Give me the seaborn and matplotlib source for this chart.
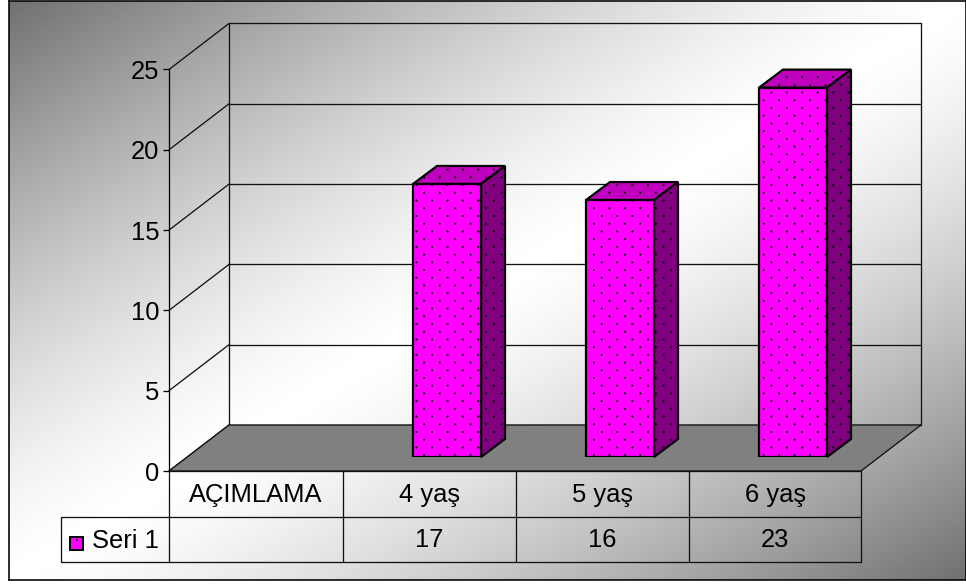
import numpy as np
import pandas as pd
import matplotlib
matplotlib.use("Agg")
import matplotlib.pyplot as plt
import matplotlib.hatch as mhatch
from matplotlib.path import Path
from matplotlib.patches import Polygon, Rectangle
from matplotlib.transforms import ScaledTranslation
import seaborn as sns

# Table columns and the single series
categories = ["AÇIMLAMA", "4 yaş", "5 yaş", "6 yaş"]
bar_categories = ["4 yaş", "5 yaş", "6 yaş"]
values = [17, 16, 23]
series_name = "Seri 1"
y_ticks = [0, 5, 10, 15, 20, 25]

W, H = 966, 585
DPI = 108
PT = 72 / DPI  # one pixel in points


class FineDots(mhatch.HatchPatternBase):
    """Small filled dots on a staggered grid: 7 columns and 14 rows per hatch tile."""
    columns = 7
    rows = 14
    radius = 0.0075

    def __init__(self, hatch, density):
        self.circle = Path.unit_circle()
        self.centres = []
        if "." in hatch:
            for r in range(self.rows + 1):
                xs = np.arange(self.columns + 1) / self.columns
                if r % 2:
                    xs = (xs[:-1] + 0.5 / self.columns)
                self.centres.extend((x, r / self.rows) for x in xs)
        self.num_vertices = len(self.centres) * len(self.circle.vertices)

    def set_vertices_and_codes(self, vertices, codes):
        n = len(self.circle.vertices)
        for i, (cx, cy) in enumerate(self.centres):
            vertices[i * n:(i + 1) * n] = self.circle.vertices * self.radius + (cx, cy)
            codes[i * n:(i + 1) * n] = self.circle.codes


mhatch._hatch_types = [FineDots if c is mhatch.SmallFilledCircles else c for c in mhatch._hatch_types]

sns.set_theme(style="white")
plt.rcParams["font.family"] = ["Liberation Sans", "DejaVu Sans"]
plt.rcParams["hatch.linewidth"] = 0.3
plt.rcParams["hatch.color"] = "black"

fig = plt.figure(figsize=((W + 0.01) / DPI, (H + 0.01) / DPI), dpi=DPI, facecolor="white")


def axes_px(x0, y0, x1, y1, **kw):
    """Axes placed by pixel box, y measured from the top of the figure."""
    return fig.add_axes([x0 / W, 1 - y1 / H, (x1 - x0) / W, (y1 - y0) / H], **kw)


def shift(dx, dy):
    return ScaledTranslation(dx / DPI, dy / DPI, fig.dpi_scale_trans)


LINE = "#111111"
THIN = 1.3 * PT
FONT = 25.5 * PT

# Diagonal dark-white-dark backdrop inside the outer frame
bg = axes_px(9, 1.5, 965.5, 580.5)
bg.set_xlim(0, 1)
bg.set_ylim(1, 0)
u, v = np.meshgrid(np.linspace(0, 1, 480), np.linspace(0, 1, 290))
shade = np.abs((u + v) / 2 - 0.5) * 2
bg.imshow(1 - 0.56 * shade ** 1.35, extent=(0, 1, 1, 0), aspect="auto", cmap="gray", vmin=0, vmax=1)
bg.set_xticks([])
bg.set_yticks([])
for s in bg.spines.values():
    s.set_color("black")
    s.set_linewidth(1.6 * PT)

# Plot geometry, in pixels
FX0, FX1, FY0, FY25 = 169, 861, 471, 69.5
DX, DY = 60, 46

# Front plane: value and category scales
ax = axes_px(FX0, FY25, FX1, FY0)
ax.patch.set_alpha(0)
ax.set_xlim(-0.5, 3.5)
ax.set_ylim(0, 25)
ax.set_xticks([])
ax.set_yticks(y_ticks)
ax.set_yticklabels([str(t) for t in y_ticks], fontsize=FONT, color="black")
ax.tick_params(axis="y", left=True, length=6 * PT, width=THIN, color="black", pad=3.5 * PT)
for name in ("top", "right", "bottom"):
    ax.spines[name].set_visible(False)
ax.spines["left"].set_linewidth(THIN)
ax.spines["left"].set_color("black")

# Back wall with gridlines, shifted from the front plane by the chart depth
back = ax.transData + shift(DX, DY)
line_kw = dict(color=LINE, lw=THIN, clip_on=False, zorder=1)
for tick in y_ticks:
    ax.plot([-0.5, 3.5], [tick, tick], transform=back, **line_kw)
    # Side wall edge from the front axis to the back wall
    x0, y0 = ax.transData.transform((-0.5, tick))
    ax.plot([x0, x0 + DX], [y0, y0 + DY], transform=None, **line_kw)
ax.plot([-0.5, -0.5], [0, 25], transform=back, **line_kw)
ax.plot([3.5, 3.5], [0, 25], transform=back, **line_kw)

# Grey floor
fx0, fy0 = ax.transData.transform((-0.5, 0))
fx1, _ = ax.transData.transform((3.5, 0))
ax.add_patch(Polygon([(fx0, fy0), (fx1, fy0), (fx1 + DX, fy0 + DY), (fx0 + DX, fy0 + DY)], closed=True,
                     transform=None, facecolor="#808080", edgecolor=LINE, lw=THIN, clip_on=False, zorder=1.5))

# Bars are drawn by seaborn on a plane set slightly behind the front edge
BAR_DX, BAR_DY = 18.5, 14
bar_ax = axes_px(FX0 + BAR_DX, FY25 - BAR_DY, FX1 + BAR_DX, FY0 - BAR_DY)
bar_ax.patch.set_alpha(0)
df = pd.DataFrame({"yas": bar_categories, "deger": values})
sns.barplot(data=df, x="yas", y="deger", order=categories, ax=bar_ax, color="#FF00FF",
            saturation=1, width=68 / 173, edgecolor="black", linewidth=2.2 * PT, hatch=".", zorder=4)
bar_ax.set_xlim(-0.5, 3.5)
bar_ax.set_ylim(0, 25)
bar_ax.axis("off")

# Top and side faces of each bar, taken from the bar rectangles
BD_X, BD_Y = 24, 18
for patch in list(bar_ax.patches):
    height = patch.get_height()
    if not height or np.isnan(height):
        continue
    x0, y0 = bar_ax.transData.transform((patch.get_x(), 0))
    x1, y1 = bar_ax.transData.transform((patch.get_x() + patch.get_width(), height))
    top = [(x0, y1), (x1, y1), (x1 + BD_X, y1 + BD_Y), (x0 + BD_X, y1 + BD_Y)]
    side = [(x1, y0), (x1 + BD_X, y0 + BD_Y), (x1 + BD_X, y1 + BD_Y), (x1, y1)]
    for pts, col in ((top, "#BF00BF"), (side, "#800080")):
        bar_ax.add_patch(Polygon(pts, closed=True, transform=None, facecolor=col, edgecolor="black",
                                 lw=2.2 * PT, hatch=".", clip_on=False, zorder=3))

# Data table under the plot
tab = axes_px(0, 0, W, H)
tab.set_xlim(0, W)
tab.set_ylim(H, 0)
tab.axis("off")
col_x = [169, 343, 516, 689, 861]
row_y = [471, 517, 562]
LEFT = 61
tab.plot([FX0, FX1], [row_y[0]] * 2, color=LINE, lw=THIN)
tab.plot([LEFT, FX1], [row_y[1]] * 2, color=LINE, lw=THIN)
tab.plot([LEFT, FX1], [row_y[2]] * 2, color=LINE, lw=THIN)
tab.plot([LEFT, LEFT], [row_y[1], row_y[2]], color=LINE, lw=THIN)
for x in col_x:
    tab.plot([x, x], [row_y[0], row_y[2]], color=LINE, lw=THIN)
for i, name in enumerate(categories):
    tab.text((col_x[i] + col_x[i + 1]) / 2, 495, name, ha="center", va="center", fontsize=FONT, color="black")
for i, val in enumerate(values):
    tab.text((col_x[i + 1] + col_x[i + 2]) / 2, 540, str(val), ha="center", va="center",
             fontsize=FONT, color="black")

# Legend key sits in the first cell of the value row
tab.add_patch(Rectangle((69.5, 537.5), 13, 13, facecolor="#FF00FF", edgecolor="black", lw=2 * PT, hatch="."))
tab.text(92, 540.5, series_name, ha="left", va="center", fontsize=FONT, color="black")

fig.savefig("out.png", dpi=DPI, facecolor="white")
